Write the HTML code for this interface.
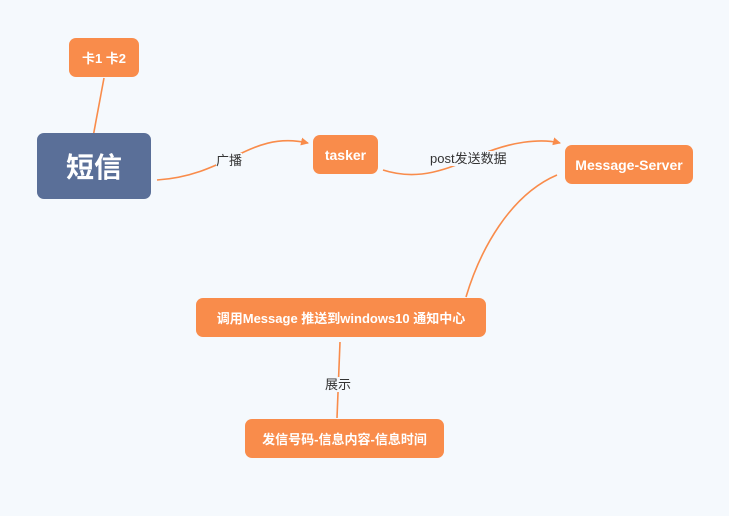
<!DOCTYPE html>
<html><head><meta charset="utf-8"><style>
html,body{margin:0;padding:0;}
body{width:729px;height:516px;background:#f5f9fd;position:relative;overflow:hidden;font-family:"Liberation Sans","Noto Sans CJK SC",sans-serif;}
.n{position:absolute;background:#f98c4b;color:#fff;border-radius:7px;font-weight:bold;font-size:13px;display:flex;align-items:center;justify-content:center;white-space:nowrap;}
.l{position:absolute;font-size:13px;color:#333;background:#f5f9fd;line-height:15px;white-space:nowrap;}
svg{position:absolute;left:0;top:0;}
</style></head><body>
<svg width="729" height="516">
<defs><marker id="a" markerWidth="8" markerHeight="8" refX="7" refY="4" orient="auto" markerUnits="userSpaceOnUse"><path d="M0,0 L8,4 L0,8 z" fill="#f98c4b"/></marker></defs>
<g stroke="#f98c4b" stroke-width="1.6" fill="none">
<path d="M104,78 L93,137"/>
<path d="M157,180 C230,175 250,130 308,143" marker-end="url(#a)"/>
<path d="M383,170 C420,182 450,168 480,155 C510,142 540,138 560,143" marker-end="url(#a)"/>
<path d="M557,175 C510,195 480,250 466,297"/>
<path d="M340,342 L337,418"/>
</g>
</svg>
<div class="n" style="left:69px;top:38px;width:70px;height:39px;">卡1 卡2</div>
<div class="n" style="left:37px;top:133px;width:114px;height:66px;background:#5a6f98;font-size:28px;">短信</div>
<div class="n" style="left:313px;top:135px;width:65px;height:39px;font-size:14px;">tasker</div>
<div class="n" style="left:565px;top:145px;width:128px;height:39px;font-size:14px;">Message-Server</div>
<div class="n" style="left:196px;top:298px;width:290px;height:39px;">调用Message 推送到windows10 通知中心</div>
<div class="n" style="left:245px;top:419px;width:199px;height:39px;">发信号码-信息内容-信息时间</div>
<div class="l" style="left:216px;top:153px;">广播</div>
<div class="l" style="left:430px;top:151px;">post发送数据</div>
<div class="l" style="left:325px;top:377px;">展示</div>
</body></html>
